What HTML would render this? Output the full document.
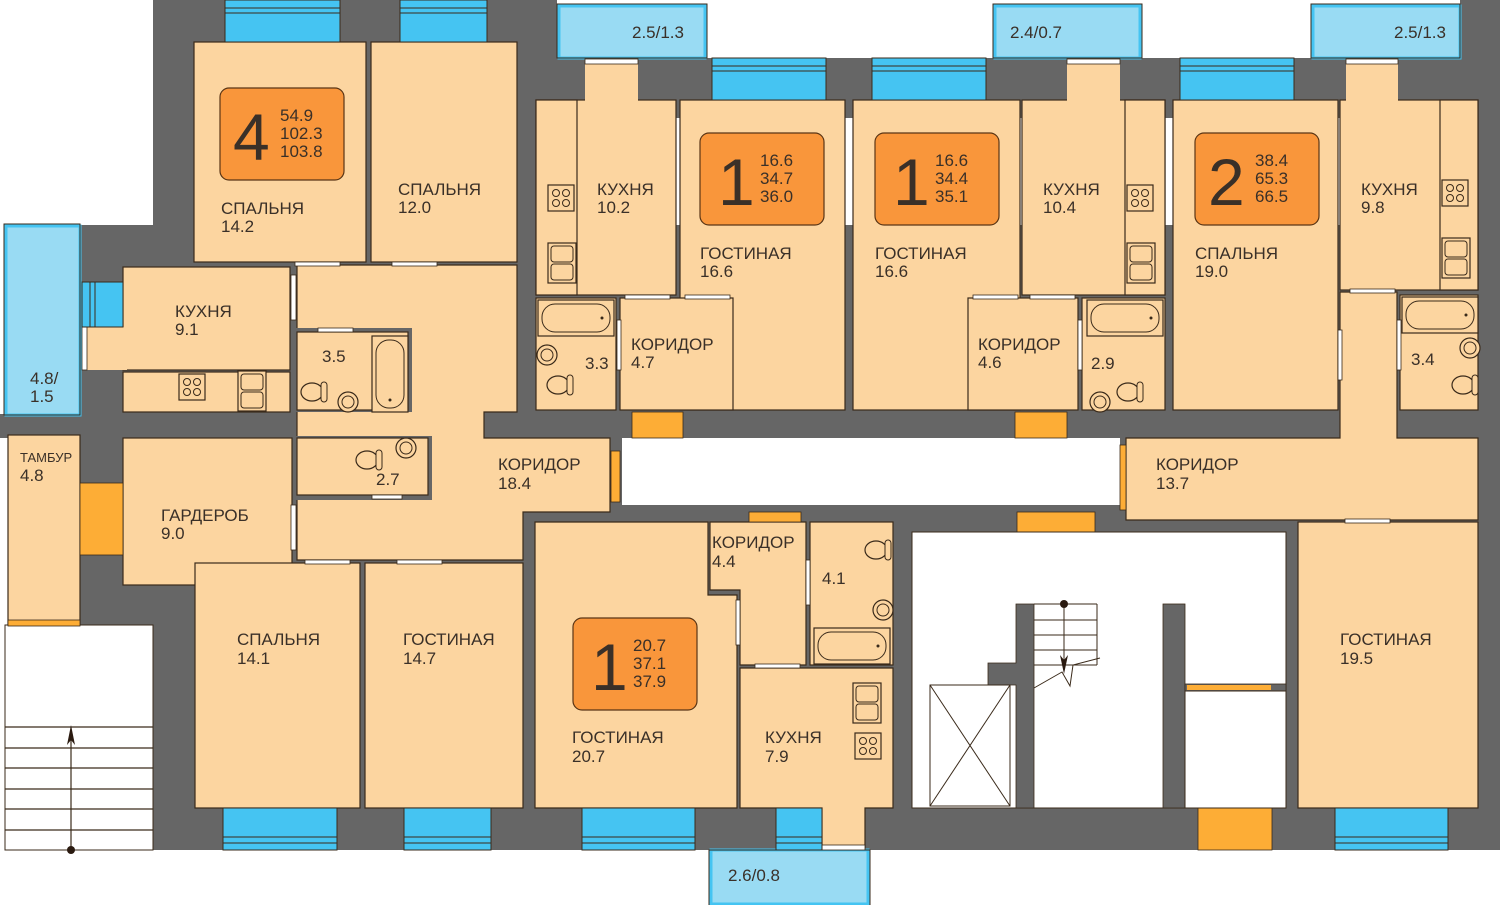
<!DOCTYPE html>
<html><head><meta charset="utf-8"><style>
html,body{margin:0;padding:0;background:#fff;}
svg{display:block;}
text{font-family:"Liberation Sans",sans-serif;fill:#3a3028;}
</style></head><body>
<svg width="1500" height="905" viewBox="0 0 1500 905" xmlns="http://www.w3.org/2000/svg">
<defs>
<g id="stove"><rect x="0" y="0" width="26" height="26" fill="#fcd5a0" stroke="#3a2a1a" stroke-width="1.2"/><circle cx="8" cy="8" r="3.5" fill="none" stroke="#3a2a1a"/><circle cx="18" cy="8" r="3.5" fill="none" stroke="#3a2a1a"/><circle cx="8" cy="18" r="3.5" fill="none" stroke="#3a2a1a"/><circle cx="18" cy="18" r="3.5" fill="none" stroke="#3a2a1a"/></g>
<g id="sink"><rect x="0" y="0" width="28" height="40" fill="#fcd5a0" stroke="#3a2a1a" stroke-width="1.2"/><rect x="3" y="3" width="22" height="16" rx="3" fill="none" stroke="#3a2a1a"/><rect x="3" y="21" width="22" height="16" rx="3" fill="none" stroke="#3a2a1a"/></g>
<g id="bath"><rect x="0" y="0" width="76" height="36" fill="#fcd5a0" stroke="#3a2a1a" stroke-width="1.2"/><rect x="4" y="4" width="68" height="28" rx="13" fill="none" stroke="#3a2a1a"/><circle cx="64" cy="18" r="1.5" fill="#3a2a1a"/></g>
<g id="wc"><ellipse cx="0" cy="0" rx="11" ry="9" fill="#fcd5a0" stroke="#3a2a1a" stroke-width="1.2"/><rect x="9" y="-10" width="6" height="20" rx="3" fill="#fcd5a0" stroke="#3a2a1a"/></g>
<g id="basin"><circle cx="0" cy="0" r="10" fill="#fcd5a0" stroke="#3a2a1a" stroke-width="1.2"/><circle cx="0" cy="0" r="6" fill="none" stroke="#3a2a1a"/></g>
</defs>

<!-- gray structure -->
<g fill="#666666">
<rect x="153" y="0" width="404" height="240"/>
<rect x="517" y="58" width="961" height="60"/>
<rect x="1460" y="0" width="40" height="850"/>
<rect x="80" y="225" width="1400" height="625"/>
<rect x="0" y="414" width="82" height="24"/>
</g>
<!-- courtyard white -->
<rect x="622" y="438" width="498" height="74" fill="#fff"/>
<rect x="523" y="505" width="600" height="7" fill="#666"/>
<!-- left stairs -->
<rect x="5" y="625" width="148" height="225" fill="#fff" stroke="#3a2a1a" stroke-width="1"/>
<g stroke="#3a2a1a" stroke-width="1.2">
<line x1="5" y1="727" x2="153" y2="727"/><line x1="5" y1="748" x2="153" y2="748"/><line x1="5" y1="768" x2="153" y2="768"/><line x1="5" y1="789" x2="153" y2="789"/><line x1="5" y1="809" x2="153" y2="809"/><line x1="5" y1="830" x2="153" y2="830"/>
<line x1="71" y1="850" x2="71" y2="730"/>
</g>
<polygon points="71,725 67,745 71,740 75,745" fill="#2a1a10"/>
<circle cx="71" cy="850" r="4" fill="#2a1a10"/>

<!-- balconies -->
<g fill="#99dbf3" stroke="#45c4f2" stroke-width="3">
<rect x="559" y="6" width="146" height="52"/>
<rect x="995" y="6" width="145" height="52"/>
<rect x="1313" y="6" width="147" height="52"/>
<rect x="6" y="226" width="74" height="189"/>
<rect x="711" y="850" width="157" height="54"/>
</g>
<g fill="none" stroke="#3a2a1a" stroke-width="1">
<rect x="557" y="4" width="150" height="54"/><rect x="993" y="4" width="149" height="54"/><rect x="1311" y="4" width="149" height="54"/><rect x="4" y="224" width="76" height="191"/><rect x="709" y="850" width="161" height="56"/>
</g>

<!-- rooms -->
<g fill="#fcd5a0" stroke="#3a2a1a" stroke-width="1.2">
<rect x="194" y="42" width="172" height="220"/>
<rect x="371" y="42" width="146" height="220"/>
<rect x="123" y="267" width="167" height="103"/>
<rect x="87" y="327" width="40" height="43" stroke="none"/>
<rect x="123" y="372" width="167" height="40"/>
<polygon points="295,265 517,265 517,412 484,412 484,438 610,438 610,512 523,512 523,560 297,560 297,265"/>
<rect x="123" y="438" width="169" height="147"/>
<rect x="8" y="435" width="72" height="190"/>
<rect x="195" y="563" width="165" height="245"/>
<rect x="365" y="563" width="158" height="245"/>
<polygon points="535,522 708,522 708,595 737,595 737,808 535,808"/>
<polygon points="710,522 806,522 806,665 740,665 740,590 710,590"/>
<rect x="810" y="522" width="83" height="143"/>
<polygon points="740,668 893,668 893,808 865,808 865,848 822,848 822,808 740,808"/>
<rect x="1298" y="522" width="180" height="286"/>
<polygon points="1126,438 1340,438 1340,292 1397,292 1397,438 1478,438 1478,520 1126,520"/>
<!-- upper wing -->
<rect x="585" y="62" width="53" height="45" stroke="none"/>
<rect x="536" y="100" width="140" height="195"/>
<rect x="536" y="100" width="41" height="195"/>
<rect x="585" y="62" width="53" height="40" stroke="none"/>
<rect x="680" y="100" width="165" height="310"/>
<rect x="536" y="298" width="80" height="112"/>
<rect x="620" y="298" width="113" height="112"/>
<rect x="853" y="100" width="167" height="310"/>
<rect x="1067" y="62" width="53" height="40" stroke="none"/>
<rect x="1022" y="100" width="143" height="195"/>
<rect x="1125" y="100" width="40" height="195"/>
<rect x="1067" y="62" width="53" height="40" stroke="none"/>
<rect x="968" y="298" width="110" height="112"/>
<rect x="1082" y="298" width="83" height="112"/>
<rect x="1173" y="100" width="165" height="310"/>
<rect x="1346" y="62" width="52" height="40" stroke="none"/>
<rect x="1340" y="100" width="138" height="190"/>
<rect x="1440" y="100" width="38" height="190"/>
<rect x="1346" y="62" width="52" height="40" stroke="none"/>
<rect x="1400" y="295" width="78" height="115"/>
</g>
<!-- small baths in left flat -->
<rect x="293" y="328" width="119" height="84" fill="#666"/>
<rect x="297" y="332" width="111" height="78" fill="#fcd5a0" stroke="#3a2a1a" stroke-width="1.2"/>
<rect x="293" y="436" width="139" height="64" fill="#666"/>
<rect x="297" y="438" width="131" height="57" fill="#fcd5a0" stroke="#3a2a1a" stroke-width="1.2"/>
<!-- white door gaps -->
<g fill="#fff" stroke="#3a2a1a" stroke-width="0.8">
<rect x="585" y="59" width="53" height="5"/><rect x="1067" y="59" width="53" height="5"/><rect x="1346" y="59" width="52" height="5"/>
<rect x="82" y="327" width="5" height="43"/>
<rect x="291" y="275" width="5" height="45"/><rect x="295" y="263" width="0" height="0"/>
<rect x="295" y="262" width="45" height="4"/><rect x="392" y="262" width="45" height="4"/>
<rect x="318" y="328" width="35" height="4"/>
<rect x="372" y="495" width="30" height="4"/>
<rect x="291" y="505" width="5" height="45"/>
<rect x="305" y="560" width="45" height="4"/><rect x="397" y="560" width="45" height="4"/>
<rect x="617" y="320" width="4" height="50"/>
<rect x="625" y="295" width="45" height="4"/><rect x="685" y="295" width="45" height="4"/>
<rect x="973" y="295" width="45" height="4"/><rect x="1030" y="295" width="45" height="4"/>
<rect x="1078" y="320" width="4" height="50"/>
<rect x="1338" y="330" width="4" height="50"/>
<rect x="1350" y="289" width="45" height="4"/>
<rect x="1397" y="320" width="4" height="50"/>
<rect x="1345" y="519" width="45" height="4"/>
<rect x="806" y="560" width="4" height="45"/>
<rect x="736" y="600" width="4" height="45"/>
<rect x="755" y="664" width="45" height="4"/>
<rect x="822" y="845" width="43" height="5"/>
</g>

<!-- windows -->
<g stroke="#3a2a1a" stroke-width="1" fill="#45c4f2">
<rect x="225" y="0" width="115" height="42"/><rect x="400" y="0" width="87" height="42"/>
<rect x="712" y="58" width="114" height="42"/><rect x="872" y="58" width="114" height="42"/><rect x="1180" y="58" width="114" height="42"/>
<rect x="223" y="808" width="114" height="42"/><rect x="404" y="808" width="87" height="42"/><rect x="582" y="808" width="113" height="42"/><rect x="776" y="808" width="46" height="42"/><rect x="1335" y="808" width="113" height="42"/>
<rect x="82" y="282" width="41" height="45"/>
</g>
<g stroke="#3a2a1a" stroke-width="1">
<line x1="225" y1="8" x2="340" y2="8"/><line x1="225" y1="13" x2="340" y2="13"/>
<line x1="400" y1="8" x2="487" y2="8"/><line x1="400" y1="13" x2="487" y2="13"/>
<line x1="712" y1="66" x2="826" y2="66"/><line x1="712" y1="71" x2="826" y2="71"/>
<line x1="872" y1="66" x2="986" y2="66"/><line x1="872" y1="71" x2="986" y2="71"/>
<line x1="1180" y1="66" x2="1294" y2="66"/><line x1="1180" y1="71" x2="1294" y2="71"/>
<line x1="223" y1="837" x2="337" y2="837"/><line x1="223" y1="843" x2="337" y2="843"/>
<line x1="404" y1="837" x2="491" y2="837"/><line x1="404" y1="843" x2="491" y2="843"/>
<line x1="582" y1="837" x2="695" y2="837"/><line x1="582" y1="843" x2="695" y2="843"/>
<line x1="776" y1="837" x2="822" y2="837"/><line x1="776" y1="843" x2="822" y2="843"/>
<line x1="1335" y1="837" x2="1448" y2="837"/><line x1="1335" y1="843" x2="1448" y2="843"/>
<line x1="90" y1="282" x2="90" y2="327"/><line x1="95" y1="282" x2="95" y2="327"/>
</g>

<!-- orange doors -->
<g fill="#fdad36" stroke="#3a2a1a" stroke-width="0.8">
<rect x="632" y="412" width="51" height="26"/><rect x="1015" y="412" width="52" height="26"/>
<rect x="80" y="483" width="43" height="72"/><rect x="611" y="451" width="9" height="51"/>
<rect x="749" y="512" width="52" height="10"/><rect x="1017" y="512" width="78" height="20"/>
<rect x="1198" y="808" width="74" height="42"/><rect x="1120" y="445" width="6" height="65"/>
<rect x="8" y="620" width="72" height="6"/>
</g>

<!-- stairwell -->
<rect x="912" y="532" width="374" height="276" fill="#fff" stroke="#3a2a1a" stroke-width="1"/>
<g fill="#666" stroke="#3a2a1a" stroke-width="0.8">
<polygon points="1016,604 1034,604 1034,808 1016,808 1016,685 988,685 988,663 1016,663"/>
<rect x="1163" y="604" width="22" height="204"/>
<rect x="1185" y="684" width="101" height="7"/>
</g>
<rect x="1187" y="685" width="84" height="5" fill="#fdad36"/>
<rect x="1185" y="691" width="101" height="117" fill="#fff" stroke="#3a2a1a" stroke-width="1"/>
<g stroke="#3a2a1a" stroke-width="1" fill="none">
<line x1="1034" y1="604" x2="1097" y2="604"/><line x1="1034" y1="620" x2="1097" y2="620"/><line x1="1034" y1="635" x2="1097" y2="635"/><line x1="1034" y1="650" x2="1097" y2="650"/><line x1="1034" y1="665" x2="1097" y2="665"/>
<line x1="1097" y1="604" x2="1097" y2="665"/>
<polyline points="1034,688 1062,672 1070,686 1073,665 1100,658"/>
<line x1="1064" y1="604" x2="1064" y2="670"/>
<rect x="930" y="685" width="80" height="121"/>
<line x1="930" y1="685" x2="1010" y2="806"/><line x1="1010" y1="685" x2="930" y2="806"/>
</g>
<circle cx="1064" cy="604" r="4" fill="#2a1a10"/>
<polygon points="1064,674 1060,655 1064,660 1068,655" fill="#2a1a10"/>

<!-- fixtures -->
<use href="#stove" x="179" y="374"/><use href="#sink" x="238" y="371" transform="rotate(0)"/>
<use href="#stove" x="548" y="185"/><use href="#sink" x="548" y="243"/>
<use href="#stove" x="1127" y="185"/><use href="#sink" x="1127" y="243"/>
<use href="#stove" x="1442" y="180"/><use href="#sink" x="1442" y="238"/>
<use href="#stove" x="855" y="733"/><use href="#sink" x="853" y="683"/>
<use href="#bath" x="538" y="300"/><use href="#bath" x="1087" y="300"/><use href="#bath" x="1402" y="297"/><use href="#bath" x="814" y="628"/>
<g transform="translate(372,336) rotate(90) translate(0,-36)"><use href="#bath"/></g>
<use href="#wc" x="558" y="385"/><use href="#basin" x="547" y="355"/>
<use href="#wc" x="1463" y="385"/><use href="#basin" x="1470" y="348"/>
<use href="#wc" x="876" y="550"/><use href="#basin" x="883" y="610"/>
<use href="#wc" x="1128" y="392" transform="rotate(0)"/><use href="#basin" x="1100" y="402"/>
<use href="#basin" x="348" y="402"/><use href="#wc" x="312" y="392"/>
<use href="#wc" x="367" y="460"/><use href="#basin" x="406" y="448"/>

<!-- badges -->
<g fill="#f9963b" stroke="#5a3515" stroke-width="1.2">
<rect x="220" y="88" width="124" height="92" rx="9"/>
<rect x="700" y="133" width="124" height="92" rx="9"/>
<rect x="875" y="133" width="124" height="92" rx="9"/>
<rect x="1195" y="133" width="124" height="92" rx="9"/>
<rect x="573" y="618" width="124" height="92" rx="9"/>
</g>
<g font-size="66" style="fill:#2a2018">
<text x="233" y="160">4</text><text x="718" y="205">1</text><text x="893" y="205">1</text><text x="1208" y="205">2</text><text x="591" y="690">1</text>
</g>
<g font-size="17" style="fill:#3a2a1a">
<text x="280" y="121">54.9</text><text x="280" y="139">102.3</text><text x="280" y="157">103.8</text>
<text x="760" y="166">16.6</text><text x="760" y="184">34.7</text><text x="760" y="202">36.0</text>
<text x="935" y="166">16.6</text><text x="935" y="184">34.4</text><text x="935" y="202">35.1</text>
<text x="1255" y="166">38.4</text><text x="1255" y="184">65.3</text><text x="1255" y="202">66.5</text>
<text x="633" y="651">20.7</text><text x="633" y="669">37.1</text><text x="633" y="687">37.9</text>
</g>

<!-- labels -->
<g font-size="17">
<text x="221" y="214">СПАЛЬНЯ</text><text x="221" y="232">14.2</text>
<text x="398" y="195">СПАЛЬНЯ</text><text x="398" y="213">12.0</text>
<text x="597" y="195">КУХНЯ</text><text x="597" y="213">10.2</text>
<text x="700" y="259">ГОСТИНАЯ</text><text x="700" y="277">16.6</text>
<text x="875" y="259">ГОСТИНАЯ</text><text x="875" y="277">16.6</text>
<text x="1043" y="195">КУХНЯ</text><text x="1043" y="213">10.4</text>
<text x="1195" y="259">СПАЛЬНЯ</text><text x="1195" y="277">19.0</text>
<text x="1361" y="195">КУХНЯ</text><text x="1361" y="213">9.8</text>
<text x="175" y="317">КУХНЯ</text><text x="175" y="335">9.1</text>
<text x="322" y="362">3.5</text>
<text x="585" y="369">3.3</text>
<text x="631" y="350">КОРИДОР</text><text x="631" y="368">4.7</text>
<text x="978" y="350">КОРИДОР</text><text x="978" y="368">4.6</text>
<text x="1091" y="369">2.9</text>
<text x="1411" y="365">3.4</text>
<text x="30" y="384">4.8/</text><text x="30" y="402">1.5</text>
<text x="20" y="481">4.8</text>
<text x="376" y="485">2.7</text>
<text x="498" y="470">КОРИДОР</text><text x="498" y="489">18.4</text>
<text x="1156" y="470">КОРИДОР</text><text x="1156" y="489">13.7</text>
<text x="161" y="521">ГАРДЕРОБ</text><text x="161" y="539">9.0</text>
<text x="712" y="548">КОРИДОР</text><text x="712" y="567">4.4</text>
<text x="822" y="584">4.1</text>
<text x="237" y="645">СПАЛЬНЯ</text><text x="237" y="664">14.1</text>
<text x="403" y="645">ГОСТИНАЯ</text><text x="403" y="664">14.7</text>
<text x="572" y="743">ГОСТИНАЯ</text><text x="572" y="762">20.7</text>
<text x="765" y="743">КУХНЯ</text><text x="765" y="762">7.9</text>
<text x="1340" y="645">ГОСТИНАЯ</text><text x="1340" y="664">19.5</text>
<text x="632" y="38">2.5/1.3</text>
<text x="1010" y="38">2.4/0.7</text>
<text x="1394" y="38">2.5/1.3</text>
<text x="728" y="881">2.6/0.8</text>
</g>
<text x="20" y="462" font-size="13">ТАМБУР</text>
</svg>
</body></html>
